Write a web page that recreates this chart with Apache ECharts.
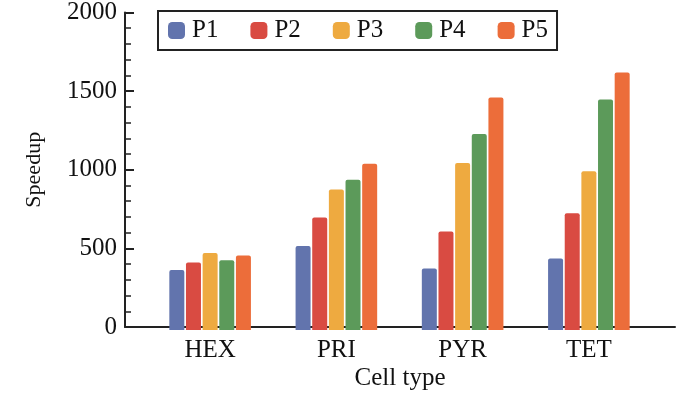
<!DOCTYPE html>
<html>
<head>
<meta charset="utf-8">
<script src="https://cdn.jsdelivr.net/npm/echarts@6/dist/echarts.min.js"></script>
<style>
  html, body { margin: 0; padding: 0; background: #fff; }
  #chart { width: 700px; height: 396px; }
</style>
</head>
<body>
<div id="chart"></div>
<script>
const cellTypes = ["HEX", "PRI", "PYR", "TET"]
const seriesNames = ["P1", "P2", "P3", "P4", "P5"]
const p1 = [378, 528, 387, 450]
const p2 = [424, 707, 619, 734]
const p3 = [485, 884, 1051, 999]
const p4 = [439, 945, 1233, 1450]
const p5 = [468, 1045, 1463, 1620]
const colors = ["#6274ad", "#d94b42", "#eeaa40", "#5c9a5a", "#ec6d3a"]

const font = "Liberation Serif, Times New Roman, serif"
const allValues = [p1, p2, p3, p4, p5]

let myChart = echarts.init(document.getElementById("chart"))

let option = {
    animation: false,
    color: colors,
    legend: {
        data: seriesNames,
        left: 158,
        top: 11,
        orient: "horizontal",
        icon: "roundRect",
        itemWidth: 17,
        itemHeight: 17,
        itemGap: 32,
        padding: [7, 9, 7, 10],
        borderColor: "#222",
        borderWidth: 2,
        borderRadius: 0,
        textStyle: {
            fontFamily: font,
            fontSize: 25,
            color: "#111",
            padding: [0, 0, 0, 2]
        }
    },
    grid: [
        // outer grid: carries the y axis and the long x axis line
        { left: 125, right: 25, top: 12, bottom: 66 },
        // inner grid: where the bars sit
        { left: 147, right: 48, top: 12, bottom: 66 }
    ],
    xAxis: [
        {
            gridIndex: 0,
            type: "category",
            data: [""],
            name: "Cell type",
            nameLocation: "middle",
            nameGap: 39,
            nameTextStyle: { fontFamily: font, fontSize: 25, color: "#111" },
            axisLine: { lineStyle: { color: "#222", width: 2 } },
            axisTick: { show: false },
            axisLabel: { show: false },
            splitLine: { show: false }
        },
        {
            gridIndex: 1,
            type: "category",
            data: cellTypes,
            axisLine: { show: false },
            axisTick: { show: false },
            axisLabel: {
                fontFamily: font,
                fontSize: 25,
                color: "#111",
                margin: 8
            },
            splitLine: { show: false }
        }
    ],
    yAxis: [
        {
            gridIndex: 0,
            type: "value",
            min: 0,
            max: 2000,
            interval: 500,
            name: "Speedup",
            nameLocation: "middle",
            nameGap: 80,
            nameTextStyle: { fontFamily: font, fontSize: 22, color: "#111" },
            axisLine: { show: true, lineStyle: { color: "#222", width: 2 } },
            axisTick: { show: true, inside: true, length: 9, lineStyle: { color: "#222", width: 2 } },
            minorTick: { show: true, splitNumber: 5, length: 6, lineStyle: { color: "#222", width: 1.5 } },
            axisLabel: {
                fontFamily: font,
                fontSize: 25,
                color: "#111",
                margin: 8,
                formatter: v => String(v)
            },
            splitLine: { show: false }
        },
        {
            gridIndex: 1,
            type: "value",
            min: 0,
            max: 2000,
            interval: 500,
            show: false,
            splitLine: { show: false }
        }
    ],
    series: seriesNames.map((name, i) => ({
        name: name,
        type: "bar",
        xAxisIndex: 1,
        yAxisIndex: 1,
        barWidth: 15,
        barGap: "11%",
        itemStyle: {
            color: colors[i],
            borderRadius: [2, 2, 0, 0]
        },
        data: allValues[i]
    }))
}
myChart.setOption(option)
</script>
</body>
</html>
